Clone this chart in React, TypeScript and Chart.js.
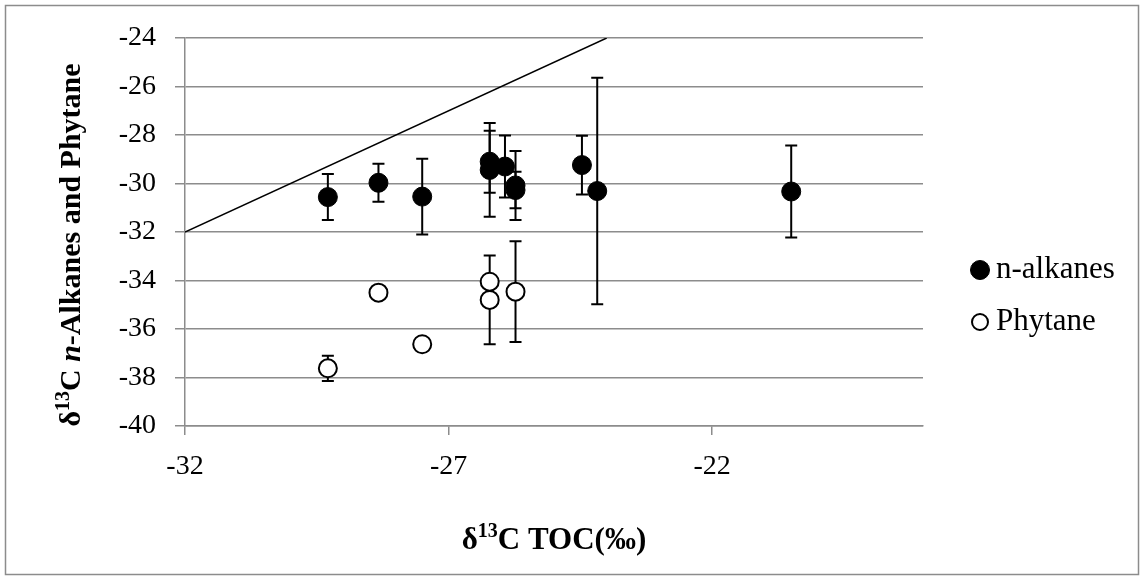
import React, { useEffect, useRef } from 'react';
import { Chart, registerables } from 'chart.js';

Chart.register(...registerables);

// ---- data ----
const alkanesX = [-29.29, -28.33, -27.5, -26.22, -26.22, -25.93, -25.73, -25.73, -24.47, -24.18, -20.5];
const alkanesY = [-30.56, -29.97, -30.54, -29.1, -29.44, -29.3, -30.08, -30.27, -29.24, -30.31, -30.33];
const alkanesErr = [0.95, 0.78, 1.56, 1.28, 1.93, 1.28, 1.42, 0.75, 1.21, 4.67, 1.9];

const phytaneX = [-29.29, -28.33, -27.5, -26.22, -26.22, -25.73];
const phytaneY = [-37.62, -34.5, -36.63, -34.05, -34.8, -34.46];
const phytaneErr = [0.52, 0, 0, 0, 1.83, 2.08];

const lineX = [-32, -24];
const lineY = [-32, -24];

const xTicks = [-32, -27, -22];
const yMin = -40;
const yMax = -24;
const yStep = 2;
const xMin = -32;
const xMax = -18;

const SERIF = '"Liberation Serif", "Times New Roman", Times, serif';
const GRID = '#8c8c8c';

type Part = { text: string; size: number; style?: string; dy?: number };

function drawRich(ctx: CanvasRenderingContext2D, parts: Part[], cx: number, cy: number, rotate: boolean) {
  ctx.save();
  ctx.translate(cx, cy);
  if (rotate) ctx.rotate(-Math.PI / 2);
  ctx.fillStyle = '#000';
  ctx.textBaseline = 'alphabetic';
  ctx.textAlign = 'left';
  const fontOf = (p: Part) => `${p.style || ''} bold ${p.size}px ${SERIF}`;
  let total = 0;
  const widths = parts.map((p) => {
    ctx.font = fontOf(p);
    const w = ctx.measureText(p.text).width;
    total += w;
    return w;
  });
  let x = -total / 2;
  const base = parts[0].size * 0.33;
  parts.forEach((p, i) => {
    ctx.font = fontOf(p);
    ctx.fillText(p.text, x, base + (p.dy || 0));
    x += widths[i];
  });
  ctx.restore();
}

export default function App() {
  const ref = useRef<HTMLCanvasElement>(null);

  useEffect(() => {
    document.body.style.margin = '0';
    const canvas = ref.current;
    if (!canvas) return;

    const errorBars = {
      id: 'errorBars',
      beforeDatasetsDraw(chart: any) {
        const ctx = chart.ctx;
        const ys = chart.scales.y;
        ctx.save();
        ctx.strokeStyle = '#000';
        ctx.lineWidth = 2;
        chart.data.datasets.forEach((ds: any, i: number) => {
          const errs = ds.errors;
          if (!errs) return;
          const meta = chart.getDatasetMeta(i);
          meta.data.forEach((pt: any, j: number) => {
            const e = errs[j];
            if (!e) return;
            const v = ds.data[j].y;
            const top = ys.getPixelForValue(v + e);
            const bot = ys.getPixelForValue(v - e);
            const x = pt.x;
            ctx.beginPath();
            ctx.moveTo(x, top);
            ctx.lineTo(x, bot);
            ctx.moveTo(x - 6, top);
            ctx.lineTo(x + 6, top);
            ctx.moveTo(x - 6, bot);
            ctx.lineTo(x + 6, bot);
            ctx.stroke();
          });
        });
        ctx.restore();
      },
    };

    const decorations = {
      id: 'decorations',
      afterDraw(chart: any) {
        const ctx = chart.ctx;
        // outer frame
        ctx.save();
        ctx.strokeStyle = GRID;
        ctx.lineWidth = 1.5;
        ctx.strokeRect(5.5, 5.5, 1133, 569);
        ctx.restore();

        // axis titles
        drawRich(
          ctx,
          [
            { text: 'δ', size: 30 },
            { text: '13', size: 20, dy: -11 },
            { text: 'C ', size: 30 },
            { text: 'n', size: 30, style: 'italic' },
            { text: '-Alkanes and Phytane', size: 30 },
          ],
          70,
          245,
          true
        );
        drawRich(
          ctx,
          [
            { text: 'δ', size: 31 },
            { text: '13', size: 20, dy: -12 },
            { text: 'C TOC(‰)', size: 31 },
          ],
          (chart.chartArea.left + chart.chartArea.right) / 2,
          539,
          false
        );

        // legend
        const items = chart.data.datasets.filter((d: any) => d.inLegend);
        items.forEach((d: any, k: number) => {
          const cy = 270 + k * 52;
          ctx.save();
          ctx.beginPath();
          ctx.arc(980, cy, d.legendRadius, 0, Math.PI * 2);
          ctx.fillStyle = d.backgroundColor;
          ctx.fill();
          ctx.lineWidth = d.borderWidth;
          ctx.strokeStyle = d.borderColor;
          ctx.stroke();
          ctx.fillStyle = '#000';
          ctx.font = `31px ${SERIF}`;
          ctx.textBaseline = 'middle';
          ctx.textAlign = 'left';
          ctx.fillText(d.label, 996, cy);
          ctx.restore();
        });
      },
    };

    const chart = new Chart(canvas, {
      type: 'scatter',
      data: {
        datasets: [
          {
            label: '1:1',
            type: 'line',
            data: lineX.map((x, i) => ({ x, y: lineY[i] })),
            borderColor: '#000',
            borderWidth: 1.5,
            pointRadius: 0,
            showLine: true,
            fill: false,
          } as any,
          {
            label: 'n-alkanes',
            data: alkanesX.map((x, i) => ({ x, y: alkanesY[i] })),
            errors: alkanesErr,
            inLegend: true,
            legendRadius: 9.5,
            backgroundColor: '#000',
            borderColor: '#000',
            borderWidth: 1,
            pointRadius: 9.5,
          } as any,
          {
            label: 'Phytane',
            data: phytaneX.map((x, i) => ({ x, y: phytaneY[i] })),
            errors: phytaneErr,
            inLegend: true,
            legendRadius: 8,
            backgroundColor: '#fff',
            borderColor: '#000',
            borderWidth: 2,
            pointRadius: 9,
          } as any,
        ],
      },
      options: {
        animation: false,
        responsive: false,
        maintainAspectRatio: false,
        layout: { padding: { top: 38, right: 221, left: 0, bottom: 0 } },
        plugins: {
          legend: { display: false },
          tooltip: { enabled: false },
        },
        scales: {
          x: {
            type: 'linear',
            min: xMin,
            max: xMax,
            afterBuildTicks: (s: any) => {
              s.ticks = xTicks.map((v) => ({ value: v }));
            },
            afterFit: (s: any) => {
              s.height = 154;
            },
            grid: {
              drawOnChartArea: false,
              drawTicks: true,
              tickLength: 9,
              color: GRID,
              lineWidth: 1.5,
            },
            border: { color: GRID, width: 1.5 },
            ticks: {
              color: '#000',
              font: { family: SERIF, size: 28 },
              padding: 15,
              maxRotation: 0,
            },
          },
          y: {
            type: 'linear',
            min: yMin,
            max: yMax,
            afterFit: (s: any) => {
              s.width = 185;
            },
            grid: {
              color: GRID,
              lineWidth: 1.5,
              tickLength: 10,
            },
            border: { color: GRID, width: 1.5 },
            ticks: {
              stepSize: yStep,
              color: '#000',
              font: { family: SERIF, size: 28 },
              padding: 19,
            },
          },
        },
      },
      plugins: [errorBars, decorations],
    } as any);

    return () => chart.destroy();
  }, []);

  return (
    <div style={{ width: 1144, height: 580, background: '#fff' }}>
      <canvas ref={ref} width={1144} height={580} style={{ display: 'block' }} />
    </div>
  );
}
